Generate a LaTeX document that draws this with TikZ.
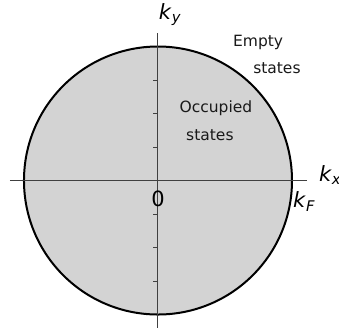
\documentclass[tikz,border=0pt]{standalone}
\usepackage{fontspec}
\setmainfont{DejaVu Sans}
\usetikzlibrary{positioning}
\definecolor{fermigray}{HTML}{D3D3D3}
\newcommand{\wavevec}[1]{\textit{k}\textsubscript{\textit{#1}}}

\begin{document}
\begin{tikzpicture}[
    x=33.5pt, y=33.5pt,
    txt/.style={font=\fontsize{15.5}{18}\selectfont, inner sep=0pt, text=black!90},
    mathtxt/.style={font=\fontsize{21}{24}\selectfont, inner sep=0pt},
    axis/.style={draw=black!75, line width=1pt},
    tickmark/.style={draw=black!75, line width=0.8pt}
  ]
  \useasboundingbox (-4.716,-4.493) rectangle (5.403,5.388);
  % Fermi disc
  \filldraw[fill=fermigray, line width=2pt] (0,0) circle (4);
  % axes
  \coordinate (xleft) at (-4.42,0);
  \coordinate (xright) at (4.45,0);
  \coordinate (ybottom) at (0,-4.40);
  \coordinate (ytop) at (0,4.40);
  \draw[axis] (xleft) -- (xright);
  \draw[axis] (ybottom) -- (ytop);
  \foreach \t in {-3,-2,-1,1,2,3}
    \draw[tickmark] (-0.14,\t) -- (0,\t);
  % labels
  \node[mathtxt] (ky) at (0.36,4.96) {\wavevec{y}};
  \node[mathtxt, anchor=west] (kx) at (4.8,0.16) {\wavevec{x}};
  \node[mathtxt, anchor=west] (kF) at (4.03,-0.63) {\wavevec{F}};
  \node[mathtxt] (zero) at (0,-0.55) {0};
  \node[txt] (empty) at (2.99,4.13) {Empty};
  \node[txt] (emptys) at (3.55,3.35) {states};
  \node[txt] (occ) at (1.73,2.16) {Occupied};
  \node[txt] (occs) at (1.55,1.36) {states};
\end{tikzpicture}
\end{document}
